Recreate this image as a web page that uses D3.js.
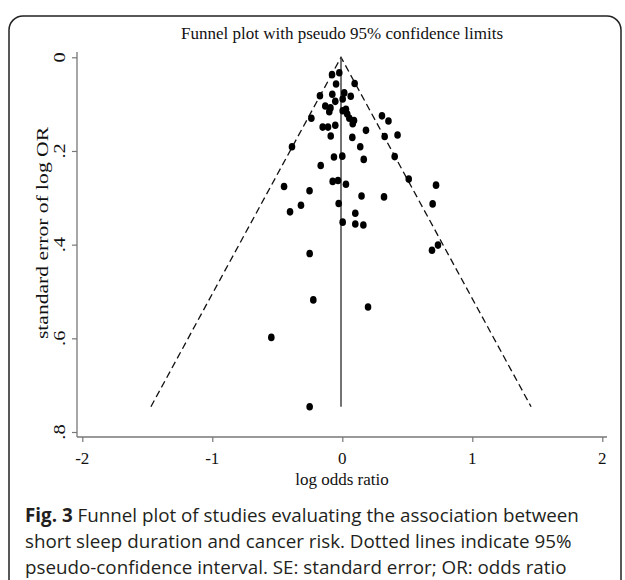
<!DOCTYPE html>
<html>
<head>
<meta charset="utf-8">
<script src="https://cdn.jsdelivr.net/npm/d3@7/dist/d3.min.js"></script>
<style>
  html, body { margin: 0; padding: 0; background: #fff; }
  svg { display: block; }
</style>
</head>
<body>
<svg id="chart" width="625" height="580"></svg>
<script>
// ---- data (log OR, SE) ----
const logOR = [
  -0.079, -0.023, -0.048, 0.095, -0.172, -0.077, 0.015, 0.065, -0.054, 0.003,
  -0.131, -0.091, -0.100, 0.003, 0.028, 0.038, 0.054, 0.090, 0.080, -0.238,
  -0.151, -0.110, -0.054, 0.182, -0.089, 0.077, 0.138, 0.305, 0.355, 0.326,
  0.425, -0.387, -0.064, 0.000, 0.165, 0.403, -0.166, 0.511, 0.721, -0.448,
  -0.252, -0.074, -0.033, 0.028, 0.148, 0.321, 0.695, -0.028, -0.318, -0.402,
  0.100, 0.003, 0.100, 0.162, 0.736, 0.690, -0.251, -0.223, 0.198, -0.546,
  -0.251
];
const seLogOR = [
  0.037, 0.033, 0.057, 0.056, 0.082, 0.079, 0.076, 0.083, 0.094, 0.089,
  0.104, 0.108, 0.116, 0.114, 0.111, 0.121, 0.130, 0.135, 0.142, 0.130,
  0.149, 0.149, 0.145, 0.156, 0.168, 0.171, 0.191, 0.125, 0.136, 0.169,
  0.166, 0.191, 0.213, 0.211, 0.218, 0.212, 0.231, 0.260, 0.273, 0.276,
  0.285, 0.265, 0.263, 0.271, 0.296, 0.298, 0.313, 0.312, 0.316, 0.330,
  0.333, 0.352, 0.356, 0.358, 0.401, 0.412, 0.419, 0.518, 0.533, 0.598,
  0.746
];
const pooledLogOR = -0.01;
const zCrit = 1.96;
const xTicks = [-2, -1, 0, 1, 2];
const yTicks = [0, 0.2, 0.4, 0.6, 0.8];
const yTickLabels = ["0", ".2", ".4", ".6", ".8"];
const titleText = "Funnel plot with pseudo 95% confidence limits";
const xTitle = "log odds ratio";
const yTitle = "standard error of log OR";
const captionLines = [
  [{b: "Fig. 3"}, {t: " Funnel plot of studies evaluating the association between"}],
  [{t: "short sleep duration and cancer risk. Dotted lines indicate 95%"}],
  [{t: "pseudo-confidence interval. SE: standard error; OR: odds ratio"}]
];

// ---- layout ----
const svg = d3.select("#chart");
const serif = "'Liberation Serif', 'Times New Roman', serif";
const sans = "'Open Sans', 'Noto Sans', sans-serif";

// frame
svg.append("rect")
  .attr("x", 9).attr("y", 16).attr("width", 612).attr("height", 620)
  .attr("rx", 14).attr("ry", 14)
  .attr("fill", "none").attr("stroke", "#222").attr("stroke-width", 1.5);

const x = d3.scaleLinear().domain([-2, 2]).range([82.3, 602.3]);
const y = d3.scaleLinear().domain([0, 0.8]).range([57.3, 432]);

const axisX = 77, axisY = 437;

// axes lines
svg.append("line").attr("x1", axisX).attr("x2", axisX).attr("y1", 52).attr("y2", axisY)
  .attr("stroke", "#777").attr("stroke-width", 1.3);
svg.append("line").attr("x1", axisX).attr("x2", 607).attr("y1", axisY).attr("y2", axisY)
  .attr("stroke", "#777").attr("stroke-width", 1.6);

// y ticks
const yAxisG = svg.append("g").attr("transform", `translate(${axisX},0)`)
  .call(d3.axisLeft(y).tickValues(yTicks).tickSize(5).tickFormat(""));
yAxisG.select(".domain").remove();
yAxisG.selectAll(".tick line").attr("stroke", "#777").attr("stroke-width", 1.2);
svg.append("g").selectAll("text").data(yTicks).join("text")
  .attr("transform", d => `translate(64.5,${y(d)}) rotate(-90) scale(1.2,1)`)
  .attr("text-anchor", "middle")
  .attr("font-family", serif).attr("font-size", 17).attr("fill", "#111")
  .text((d, i) => yTickLabels[i]);

// x ticks
const xAxisG = svg.append("g").attr("transform", `translate(0,${axisY})`)
  .call(d3.axisBottom(x).tickValues(xTicks).tickSize(5).tickFormat(""));
xAxisG.select(".domain").remove();
xAxisG.selectAll(".tick line").attr("stroke", "#777").attr("stroke-width", 1.2);
svg.append("g").selectAll("text").data(xTicks).join("text")
  .attr("x", d => x(d)).attr("y", 464)
  .attr("text-anchor", "middle")
  .attr("font-family", serif).attr("font-size", 17).attr("fill", "#111")
  .text(d => d3.format("d")(d).replace("−", "-"));

// titles
svg.append("text").attr("x", 342).attr("y", 39).attr("text-anchor", "middle")
  .attr("font-family", serif).attr("font-size", 17).attr("fill", "#111").text(titleText);
svg.append("text").attr("x", 342).attr("y", 485).attr("text-anchor", "middle")
  .attr("font-family", serif).attr("font-size", 17).attr("fill", "#111").text(xTitle);
svg.append("text").attr("transform", `translate(48,233) rotate(-90) scale(1.27,1)`).attr("text-anchor", "middle")
  .attr("font-family", serif).attr("font-size", 17).attr("fill", "#111").text(yTitle);

// funnel
const seMax = d3.max(seLogOR);
const line = d3.line().x(d => x(d[0])).y(d => y(d[1]));
svg.append("path")
  .attr("d", line([[pooledLogOR - zCrit * seMax, seMax], [pooledLogOR, 0], [pooledLogOR + zCrit * seMax, seMax]]))
  .attr("fill", "none").attr("stroke", "#111").attr("stroke-width", 1.3)
  .attr("stroke-dasharray", "7,4");
svg.append("path")
  .attr("d", line([[pooledLogOR, 0], [pooledLogOR, seMax]]))
  .attr("fill", "none").attr("stroke", "#444").attr("stroke-width", 1.5);

// points
svg.append("g").selectAll("ellipse").data(logOR.map((v, i) => [v, seLogOR[i]])).join("ellipse")
  .attr("cx", d => x(d[0])).attr("cy", d => y(d[1])).attr("rx", 3.3).attr("ry", 3.8)
  .attr("fill", "#000");

// caption
const cap = svg.append("g");
captionLines.forEach((parts, i) => {
  const t = cap.append("text").attr("x", 25).attr("y", 522 + i * 26)
    .attr("font-family", sans).attr("font-size", 18.8).attr("fill", "#231f20");
  parts.forEach(p => {
    if (p.b) t.append("tspan").attr("font-weight", "bold").text(p.b);
    else t.append("tspan").text(p.t);
  });
});
</script>
</body>
</html>
